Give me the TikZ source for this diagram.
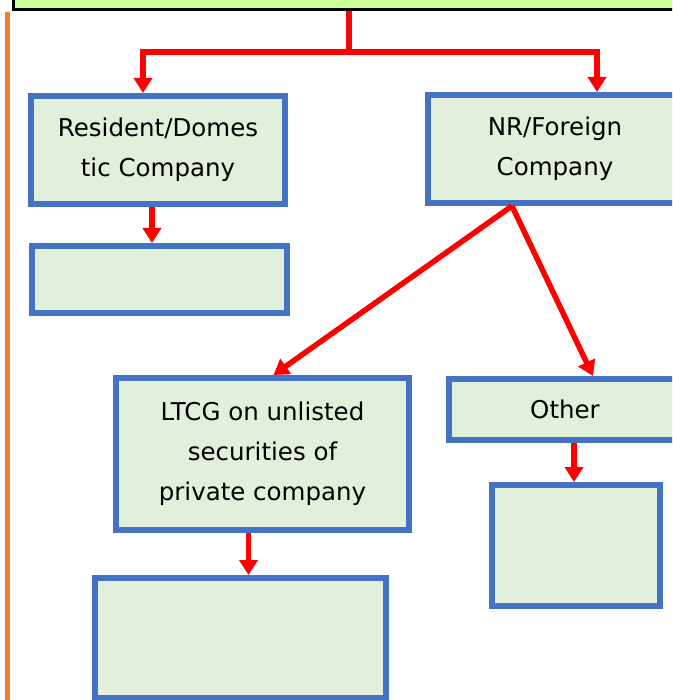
\documentclass[tikz,border=0pt]{standalone}
\usepackage{fontspec}
\setmainfont{DejaVu Sans}
\usetikzlibrary{arrows.meta}
\definecolor{boxblue}{HTML}{4472C4}
\definecolor{boxfill}{HTML}{E2EFDA}
\definecolor{headfill}{HTML}{CCFF99}
\definecolor{sideorange}{HTML}{ED7D31}
\tikzset{
  box/.style={draw=boxblue, fill=boxfill, line width=6pt, inner sep=0pt,
    align=center, font=\fontsize{24.5}{40}\selectfont},
  head/.style={draw=black, fill=headfill, line width=3pt, inner sep=0pt},
  link/.style={draw=red, line width=5.5pt},
  flow/.style={link, -{Triangle[width=18pt,length=15pt]}},
}
\begin{document}
\begin{tikzpicture}[x=1pt,y=-1pt]
\useasboundingbox (0,0) rectangle (672,700);
\clip (0,0) rectangle (672,700);

% orange side rule
\draw[sideorange, line width=5pt] (7,12) -- (7,705);

% heading box running off the top edge
\node[head, minimum width=707pt, minimum height=70pt] (top) at (366.5,-25) {};

% first level
\node[box, minimum width=254pt, minimum height=108pt] (res) at (158,150) {Resident/Domes\\tic Company};
\node[box, minimum width=254pt, minimum height=108pt] (nr) at (555,149) {NR/Foreign\\Company};

% under resident
\node[box, minimum width=255pt, minimum height=67pt] (resb) at (159.5,279.5) {};

% under non-resident
\node[box, minimum width=293pt, minimum height=152pt] (ltcg) at (262.5,454) {LTCG on unlisted\\securities of\\private company};
\node[box, minimum width=232pt, minimum height=61pt] (other) at (565,409.5) {Other};

% bottom level
\node[box, minimum width=291pt, minimum height=120pt] (low) at (240.5,638) {};
\node[box, minimum width=168pt, minimum height=121pt] (lowr) at (576,545.5) {};

% connectors
\coordinate (split) at (349,52);
\draw[link] (top.south -| split) -- (split);
\draw[flow] (split) -| ([xshift=-15pt]res.north);
\draw[flow] (split) -| ([xshift=42pt]nr.north);

\draw[flow] ([xshift=-6pt]res.south) -- ([xshift=-6pt]res.south |- resb.north);

\coordinate (fork) at ([xshift=-43pt]nr.south);
\draw[flow] (fork) -- ([xshift=11pt]ltcg.north);
\draw[flow] (fork) -- ([xshift=28pt]other.north);

\draw[flow] ([xshift=-14pt]ltcg.south) -- ([xshift=-14pt]ltcg.south |- low.north);
\draw[flow] ([xshift=9pt]other.south) -- ([xshift=9pt]other.south |- lowr.north);
\end{tikzpicture}
\end{document}
